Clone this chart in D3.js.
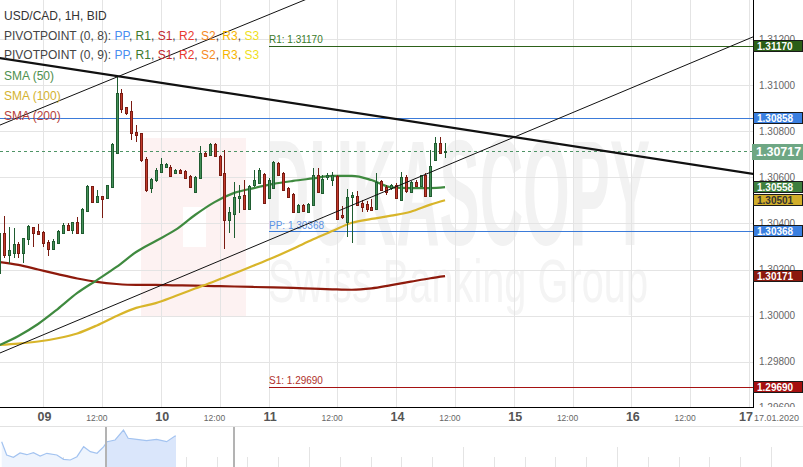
<!DOCTYPE html>
<html>
<head>
<meta charset="utf-8">
<script src="https://cdnjs.cloudflare.com/ajax/libs/d3/7.8.5/d3.min.js"></script>
<style>
body { margin: 0; background: #fff; }
svg { display: block; font-family: "Liberation Sans", Arial, sans-serif; }
</style>
</head>
<body>
<svg id="viz" width="803" height="467"></svg>
<script>
// hourly bars, index 0 = 09.01 00:00 (weekend hours are skipped)
var candleIdx = d3.range(-9, 83);
var candleOpen = [1.30185,1.30359,1.30263,1.30272,1.30311,1.30272,1.30333,1.30385,1.30367,
  1.30363,1.30320,1.30289,1.30315,1.30359,1.30393,1.30372,1.30407,1.30359,1.30454,1.30563,1.30493,1.30520,1.30511,
  1.30559,1.30707,1.30967,1.30907,1.30889,1.30798,1.30793,1.30680,1.30554,1.30589,1.30624,1.30646,1.30646,1.30620,
  1.30633,1.30628,1.30607,1.30537,1.30598,1.30707,1.30698,1.30746,1.30693,1.30620,1.30415,1.30441,1.30511,1.30524,
  1.30463,1.30567,1.30576,1.30615,1.30511,1.30554,1.30663,1.30620,1.30554,1.30528,1.30450,1.30480,1.30450,1.30480,
  1.30611,1.30533,1.30602,1.30589,1.30607,1.30437,1.30407,1.30515,1.30520,1.30489,1.30485,1.30472,1.30463,1.30585,
  1.30559,1.30554,1.30567,1.30502,1.30602,1.30537,1.30580,1.30563,1.30611,1.30520,1.30676,1.30750,1.30715];
var candleHigh = [1.30372,1.30433,1.30385,1.30380,1.30320,1.30337,1.30393,1.30385,1.30398,
  1.30367,1.30328,1.30333,1.30372,1.30402,1.30402,1.30407,1.30428,1.30467,1.30567,1.30563,1.30546,1.30520,1.30567,
  1.30750,1.31037,1.30985,1.30907,1.30933,1.30828,1.30793,1.30689,1.30598,1.30641,1.30685,1.30663,1.30654,1.30637,
  1.30637,1.30633,1.30611,1.30607,1.30737,1.30711,1.30750,1.30750,1.30698,1.30720,1.30472,1.30580,1.30567,1.30589,
  1.30567,1.30633,1.30641,1.30620,1.30598,1.30672,1.30667,1.30624,1.30559,1.30533,1.30485,1.30485,1.30489,1.30641,
  1.30641,1.30611,1.30620,1.30624,1.30611,1.30476,1.30550,1.30537,1.30541,1.30502,1.30498,1.30507,1.30620,1.30589,
  1.30567,1.30572,1.30576,1.30624,1.30611,1.30585,1.30589,1.30611,1.30620,1.30720,1.30776,1.30776,1.30750];
var candleLow = [1.30180,1.30250,1.30224,1.30250,1.30250,1.30228,1.30307,1.30298,1.30350,
  1.30298,1.30259,1.30285,1.30315,1.30354,1.30367,1.30354,1.30359,1.30354,1.30450,1.30493,1.30493,1.30424,1.30507,
  1.30559,1.30702,1.30880,1.30872,1.30763,1.30754,1.30667,1.30537,1.30533,1.30580,1.30620,1.30641,1.30602,1.30615,
  1.30615,1.30598,1.30554,1.30537,1.30593,1.30689,1.30693,1.30689,1.30607,1.30289,1.30359,1.30337,1.30446,1.30459,
  1.30459,1.30559,1.30572,1.30485,1.30507,1.30550,1.30607,1.30541,1.30511,1.30446,1.30446,1.30450,1.30446,1.30476,
  1.30533,1.30528,1.30589,1.30563,1.30415,1.30420,1.30341,1.30315,1.30476,1.30450,1.30450,1.30454,1.30459,1.30541,
  1.30524,1.30546,1.30507,1.30498,1.30533,1.30533,1.30559,1.30559,1.30515,1.30515,1.30672,1.30702,1.30685];
var candleClose = [1.30359,1.30263,1.30285,1.30311,1.30272,1.30337,1.30389,1.30359,1.30354,
  1.30315,1.30289,1.30324,1.30367,1.30393,1.30372,1.30407,1.30359,1.30463,1.30563,1.30493,1.30520,1.30507,1.30567,
  1.30746,1.30967,1.30898,1.30880,1.30793,1.30785,1.30676,1.30546,1.30593,1.30633,1.30659,1.30659,1.30607,1.30633,
  1.30620,1.30598,1.30559,1.30602,1.30707,1.30693,1.30746,1.30693,1.30611,1.30415,1.30450,1.30515,1.30520,1.30463,
  1.30563,1.30589,1.30633,1.30489,1.30589,1.30667,1.30611,1.30546,1.30515,1.30450,1.30480,1.30454,1.30485,1.30611,
  1.30537,1.30593,1.30611,1.30611,1.30420,1.30428,1.30515,1.30524,1.30480,1.30472,1.30463,1.30459,1.30580,1.30546,
  1.30537,1.30567,1.30511,1.30602,1.30541,1.30580,1.30563,1.30611,1.30520,1.30650,1.30750,1.30707,1.30717];

// moving averages at these bar indexes
var smaIdx = [-9,-5,-1,3,7,11,15,19,23,27,31,35,39,43,47,51,55,59,63,67,71,75,79,82];
var sma50 = [1.29870,1.29911,1.29963,1.30028,1.30098,1.30154,1.30211,1.30276,1.30324,1.30372,1.30437,1.30493,
  1.30533,1.30554,1.30572,1.30585,1.30596,1.30607,1.30607,1.30589,1.30557,1.30554,1.30554,1.30558];
var sma100 = [1.29872,1.29878,1.29887,1.29901,1.29922,1.29957,1.29998,1.30033,1.30054,1.30085,1.30117,1.30149,
  1.30183,1.30217,1.30252,1.30290,1.30330,1.30367,1.30403,1.30420,1.30434,1.30451,1.30482,1.30501];
var sma200 = [1.30233,1.30220,1.30200,1.30180,1.30161,1.30146,1.30137,1.30133,1.30133,1.30131,1.30130,1.30128,
  1.30126,1.30124,1.30122,1.30120,1.30117,1.30114,1.30112,1.30118,1.30132,1.30147,1.30162,1.30171];

// drawn trend lines: [bar index, price] pairs
var trendThick = [[-9, 1.31120], [145, 1.30615]];
var trendUpper = [[-9, 1.30826], [60, 1.31430]];
var trendLower = [[-9, 1.29835], [145, 1.31213]];

var pivotStart = 46;
var pivotR1 = 1.31170, pivotPP = 1.30368, pivotS1 = 1.29690;
var prevPP = 1.30858;
var lastPrice = 1.30717;

var yTickValues = [1.296, 1.298, 1.300, 1.302, 1.304, 1.306, 1.308, 1.310, 1.312];
var xTickIdx = [0, 12, 24, 36, 46, 60, 72, 84, 96, 108, 120, 132, 144];
var xTickLabels = ["09", "12:00", "10", "12:00", "11", "12:00", "14", "12:00", "15", "12:00", "16", "12:00", "17"];

// navigator strip
var navPos = [0.5,2,4,6,8,10,12,14,17,19,21,23,25,27,29,31,32,34.4,36.9,38.3,40.9,43.8,46.8,49.8,52.3,52.6];
var navVal = [25.3,12,9.7,14,12.3,14.3,11,13.7,12,7.7,7,10.3,20.3,15.3,13.7,20.3,25.3,27,37,28.7,27.7,26.3,27.7,25.3,31,31];

var W = 803, H = 467, plotW = 753, plotH = 407;
var x = d3.scaleLinear().domain([-8.77, 144.81]).range([0, plotW]);
var y = d3.scaleLinear().domain([1.296022, 1.313717]).range([plotH, 0]);
var fmt = d3.format(".5f");
function py(v) { return Math.round(y(v)) + 0.5; }

var svg = d3.select("#viz");
svg.append("defs").append("clipPath").attr("id", "plotClip")
    .append("rect").attr("width", plotW).attr("height", plotH);
var plot = svg.append("g").attr("clip-path", "url(#plotClip)");

// watermark
var wm = plot.append("g");
wm.append("rect").attr("x", 141).attr("y", 138).attr("width", 105).attr("height", 179).attr("fill", "#fdf2f2");
wm.append("rect").attr("x", 183).attr("y", 207).attr("width", 23).attr("height", 40).attr("fill", "#fff");
wm.append("text").attr("x", 266).attr("y", 245).attr("font-size", 150).attr("font-weight", "bold")
    .attr("textLength", 384).attr("lengthAdjust", "spacingAndGlyphs").attr("fill", "#f2f2f2").text("DUKASCOPY");
wm.append("text").attr("x", 268).attr("y", 302).attr("font-size", 62)
    .attr("textLength", 380).attr("lengthAdjust", "spacingAndGlyphs").attr("fill", "#f4f4f4").text("Swiss Banking Group");

// grid
var grid = plot.append("g").attr("stroke", "#e4e4e4").attr("shape-rendering", "crispEdges");
grid.selectAll("line.h").data(yTickValues).enter().append("line").attr("class", "h")
    .attr("x1", 0).attr("x2", plotW).attr("y1", function (d) { return py(d); }).attr("y2", function (d) { return py(d); });
grid.selectAll("line.v").data(xTickIdx).enter().append("line").attr("class", "v")
    .attr("y1", 0).attr("y2", plotH)
    .attr("x1", function (d) { return Math.round(x(d)) + 0.5; }).attr("x2", function (d) { return Math.round(x(d)) + 0.5; });

// pivot levels
var pivots = [
    { name: "R1", v: pivotR1, color: "#2d6119", text: "#3b7a2a", ty: -3 },
    { name: "PP", v: pivotPP, color: "#3b7bd9", text: "#5b93e6", ty: -2 },
    { name: "S1", v: pivotS1, color: "#a51212", text: "#b0302a", ty: -3 }
];
var pv = plot.append("g").attr("shape-rendering", "crispEdges");
pv.append("line").attr("x1", 0).attr("x2", plotW).attr("y1", py(prevPP)).attr("y2", py(prevPP)).attr("stroke", "#3b7bd9");
pivots.forEach(function (p) {
    pv.append("line").attr("x1", Math.round(x(pivotStart))).attr("x2", plotW)
        .attr("y1", py(p.v)).attr("y2", py(p.v)).attr("stroke", p.color);
    plot.append("text").attr("x", Math.round(x(pivotStart))).attr("y", y(p.v) + p.ty)
        .attr("font-size", 10).attr("fill", p.text).text(p.name + ": " + fmt(p.v));
});
pv.append("line").attr("x1", 0).attr("x2", plotW).attr("y1", py(lastPrice)).attr("y2", py(lastPrice))
    .attr("stroke", "#4f9466").attr("stroke-dasharray", "3,3");

// moving averages
function smaLine(vals) {
    return d3.line().x(function (d, k) { return x(smaIdx[k]); }).y(function (d) { return y(d); })
        .curve(d3.curveMonotoneX)(vals);
}
[[sma200, "#8e1a0c"], [sma100, "#d8b52a"], [sma50, "#3f8a3f"]].forEach(function (s) {
    plot.append("path").attr("d", smaLine(s[0])).attr("fill", "none").attr("stroke", s[1]).attr("stroke-width", 2.2);
});

// candles
var candles = candleIdx.map(function (i, k) {
    return { i: i, o: candleOpen[k], h: candleHigh[k], l: candleLow[k], c: candleClose[k] };
});
var cg = plot.append("g").attr("shape-rendering", "crispEdges");
var bar = cg.selectAll("g").data(candles).enter().append("g");
bar.append("line")
    .attr("x1", function (d) { return Math.round(x(d.i)) + 0.5; })
    .attr("x2", function (d) { return Math.round(x(d.i)) + 0.5; })
    .attr("y1", function (d) { return Math.round(y(d.h)); })
    .attr("y2", function (d) { return Math.round(y(d.l)); })
    .attr("stroke", function (d) { return d.c >= d.o ? "#1f5c30" : "#7a1b12"; });
bar.append("rect")
    .attr("x", function (d) { return Math.round(x(d.i)) - 0.5; })
    .attr("width", 2)
    .attr("y", function (d) { return Math.round(y(Math.max(d.o, d.c))) + 0.5; })
    .attr("height", function (d) { return Math.max(1, Math.round(y(Math.min(d.o, d.c))) - Math.round(y(Math.max(d.o, d.c)))); })
    .attr("fill", function (d) { return d.c >= d.o ? "#449058" : "#c23a2b"; })
    .attr("stroke", function (d) { return d.c >= d.o ? "#1f5c30" : "#7a1b12"; });

// trend lines
[[trendThick, 2.2], [trendUpper, 1], [trendLower, 1]].forEach(function (t) {
    plot.append("line")
        .attr("x1", x(t[0][0][0])).attr("y1", y(t[0][0][1]))
        .attr("x2", x(t[0][1][0])).attr("y2", y(t[0][1][1]))
        .attr("stroke", "#111").attr("stroke-width", t[1]);
});

// legend
var leg = svg.append("g").attr("font-size", 12);
leg.append("text").attr("x", 4).attr("y", 20).attr("fill", "#333").text("USD/CAD, 1H, BID");
var pivotNames = [["PP", "#4a8ef0"], ["R1", "#3c7a2c"], ["S1", "#c0282e"], ["R2", "#e8392f"], ["S2", "#f58a1f"], ["R3", "#f6b500"], ["S3", "#f0df1a"]];
["PIVOTPOINT (0, 8): ", "PIVOTPOINT (0, 9): "].forEach(function (t, r) {
    var txt = leg.append("text").attr("x", 4).attr("y", 39.5 + r * 19.5).attr("fill", "#444");
    txt.append("tspan").text(t);
    pivotNames.forEach(function (p, k) {
        txt.append("tspan").attr("fill", p[1]).text(p[0]);
        if (k < pivotNames.length - 1) txt.append("tspan").attr("fill", "#444").text(", ");
    });
});
[["SMA (50)", "#4e8f4e"], ["SMA (100)", "#d4b22e"], ["SMA (200)", "#b8423a"]].forEach(function (s, k) {
    leg.append("text").attr("x", 4).attr("y", 80 + k * 20).attr("fill", s[1]).text(s[0]);
});

// frame
var frame = svg.append("g").attr("stroke", "#000").attr("shape-rendering", "crispEdges");
frame.append("line").attr("x1", plotW + 0.5).attr("x2", plotW + 0.5).attr("y1", 0).attr("y2", plotH + 1);
frame.append("line").attr("x1", 0).attr("x2", plotW + 1).attr("y1", plotH + 0.5).attr("y2", plotH + 0.5);

// right price axis
svg.append("defs").append("clipPath").attr("id", "axisClip")
    .append("rect").attr("x", plotW).attr("width", W - plotW).attr("height", plotH);
var ax = svg.append("g").attr("clip-path", "url(#axisClip)").attr("font-size", 10);
ax.selectAll("text").data(yTickValues).enter().append("text")
    .attr("x", 759).attr("y", function (d) { return y(d) + 3.5; })
    .attr("fill", "#666").text(function (d) { return fmt(d); });

var priceBoxes = [
    { v: pivotR1, bg: "#2b5e17", fg: "#fff" },
    { v: prevPP, bg: "#3a7fe0", fg: "#fff" },
    { v: sma50[sma50.length - 1], bg: "#3e7f3e", fg: "#fff" },
    { v: sma100[sma100.length - 1], bg: "#d2ae2b", fg: "#333" },
    { v: pivotPP, bg: "#3a7fe0", fg: "#fff" },
    { v: sma200[sma200.length - 1], bg: "#8b1a0e", fg: "#fff" },
    { v: pivotS1, bg: "#a50f0f", fg: "#fff" }
];
var pb = svg.append("g").attr("shape-rendering", "crispEdges");
priceBoxes.forEach(function (b) {
    var cy = Math.round(y(b.v));
    pb.append("rect").attr("x", plotW + 0.5).attr("y", cy - 5.5).attr("width", 49).attr("height", 11)
        .attr("fill", b.bg).attr("stroke", "#1a1a1a");
    svg.append("text").attr("x", 757).attr("y", cy + 4).attr("font-size", 10).attr("font-weight", "bold")
        .attr("fill", b.fg).text(fmt(b.v));
});
var lc = Math.round(y(lastPrice));
pb.append("rect").attr("x", plotW - 1).attr("y", lc - 7).attr("width", 51).attr("height", 16).attr("fill", "#6ea784");
svg.append("text").attr("x", 756).attr("y", lc + 5).attr("font-size", 12.5).attr("font-weight", "bold")
    .attr("fill", "#fff").text(fmt(lastPrice));

// time axis labels
var xl = svg.append("g");
xTickIdx.forEach(function (d, k) {
    var lab = xTickLabels[k];
    var isDay = lab !== "12:00";
    var t = xl.append("text").attr("y", 421).text(lab);
    if (isDay) {
        var last = k === xTickIdx.length - 1;
        t.attr("x", last ? plotW : x(d) + 1.5).attr("text-anchor", last ? "end" : "middle")
            .attr("font-size", 12.5).attr("font-weight", "bold").attr("fill", "#555");
    } else {
        t.attr("x", x(d) - 5).attr("text-anchor", "middle").attr("font-size", 8.5).attr("fill", "#666");
    }
});
xl.append("text").attr("x", 799).attr("y", 421).attr("text-anchor", "end").attr("font-size", 9)
    .attr("fill", "#666").text("17.01.2020");

// navigator
var nav = svg.append("g");
var nx = d3.scaleLinear().domain([0, 240]).range([0, W]);
var ny = d3.scaleLinear().domain([0, 40]).range([H, 427]);
nav.append("line").attr("x1", 0).attr("x2", W).attr("y1", 426.5).attr("y2", 426.5)
    .attr("stroke", "#e2e2e2").attr("shape-rendering", "crispEdges");
nav.selectAll("line.tick").data(d3.range(1, 26)).enter().append("line").attr("class", "tick")
    .attr("x1", function (k) { return Math.round(1 + 30.8 * k) + 0.5; })
    .attr("x2", function (k) { return Math.round(1 + 30.8 * k) + 0.5; })
    .attr("y1", function (k) { return k % 5 === 0 ? 447 : 457; }).attr("y2", H)
    .attr("stroke", "#e4e4e4").attr("shape-rendering", "crispEdges");
var navPts = navPos.map(function (p, k) { return [p, navVal[k]]; });
var navArea = d3.area().x(function (d) { return nx(d[0]); }).y0(H).y1(function (d) { return ny(d[1]); });
nav.append("path").attr("d", navArea(navPts)).attr("fill", "#eef4fd");
nav.append("defs").append("clipPath").attr("id", "navSel").append("rect").attr("x", 106).attr("y", 420).attr("width", 130).attr("height", 50);
nav.append("path").attr("d", navArea(navPts)).attr("fill", "#dae6fb").attr("clip-path", "url(#navSel)");
nav.append("path").attr("d", d3.line().x(function (d) { return nx(d[0]); }).y(function (d) { return ny(d[1]); })(navPts))
    .attr("fill", "none").attr("stroke", "#a3c3f0").attr("stroke-width", 1.2);
[106, 234].forEach(function (hx) {
    nav.append("line").attr("x1", hx).attr("x2", hx).attr("y1", 427).attr("y2", H)
        .attr("stroke", "#b3b3b3").attr("stroke-width", 2);
});
</script>
</body>
</html>
